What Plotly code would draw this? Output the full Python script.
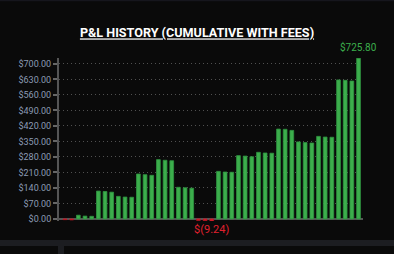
import plotly.graph_objects as go

values = [-3.1, -4.2, 17, 13, 12, 126, 124, 121, 102, 99, 98, 203, 200, 197,
          268, 265, 263, 143, 141, 139, -6.5, -7.8, -9.24, 215, 212, 211,
          286, 284, 281, 301, 298, 297, 406, 405, 400, 348, 345, 343,
          373, 370, 369, 628, 626, 623, 725.80]
categories = list(range(len(values)))
tick_vals = [0, 70, 140, 210, 280, 350, 420, 490, 560, 630, 700]
tick_text = ["$%.2f" % v for v in tick_vals]
title_text = "P&L HISTORY (CUMULATIVE WITH FEES)"

GREEN = "#3cae4c"
GREEN_EDGE = "#2f9440"
RED = "#e0202e"
BG = "#0a0a0a"

colors = [GREEN if v >= 0 else RED for v in values]
edges = [GREEN_EDGE if v >= 0 else "#b81522" for v in values]

W, H = 394, 254
L, R, T, B = 59, 31, 58, 33
pw, ph = W - L - R, H - T - B

def px_x(x):
    return (x - L) / pw

def px_y(y):
    return (H - B - y) / ph

fig = go.Figure(go.Bar(
    x=categories, y=values,
    marker=dict(color=colors, line=dict(color=edges, width=0.8)),
    width=0.56,
    hoverinfo="skip",
))

imax = max(range(len(values)), key=lambda i: values[i])
imin = min(range(len(values)), key=lambda i: values[i])

def money(v):
    return "$%.2f" % v if v >= 0 else "$(%.2f)" % abs(v)

fig.add_annotation(x=imax, y=values[imax], text=money(values[imax]),
                   showarrow=False, yanchor="bottom", yshift=3,
                   font=dict(color=GREEN, size=10, family="Roboto"))
fig.add_annotation(x=imin, y=values[imin], text=money(values[imin]),
                   showarrow=False, yanchor="top", yshift=0,
                   font=dict(color=RED, size=11, family="Roboto"))

shapes = [
    dict(type="rect", xref="paper", yref="paper",
         x0=px_x(0), x1=px_x(W), y0=px_y(240), y1=px_y(246),
         fillcolor="#1c1d21", line=dict(width=0), layer="above"),
    dict(type="rect", xref="paper", yref="paper",
         x0=px_x(58), x1=px_x(64), y0=px_y(246), y1=px_y(H),
         fillcolor="#1c1d21", line=dict(width=0), layer="above"),
    dict(type="rect", xref="paper", yref="paper",
         x0=px_x(0), x1=px_x(W), y0=px_y(0), y1=px_y(1.2),
         fillcolor="#16161d", line=dict(width=0), layer="above"),
]

fig.update_layout(
    width=W, height=H,
    margin=dict(l=L, r=R, t=T, b=B, pad=0),
    paper_bgcolor=BG, plot_bgcolor=BG,
    showlegend=False,
    shapes=shapes,
    title=dict(text="<b><u>" + title_text + "</u></b>",
               x=0.5, xref="container", xanchor="center",
               y=1 - 33 / H, yref="container", yanchor="middle",
               font=dict(color="#ffffff", size=12.6, family="Roboto")),
    xaxis=dict(range=[-0.9, 44.67], showticklabels=False, ticks="",
               showgrid=False, zeroline=False, showline=False, fixedrange=True),
    yaxis=dict(range=[-9.24, 727], tickvals=tick_vals, ticktext=tick_text,
               tickfont=dict(color="#8b9bb4", size=9, family="Roboto"),
               ticks="outside", ticklen=4, tickwidth=2, tickcolor="#666666",
               showline=True, linecolor="#555555", linewidth=2,
               showgrid=True, gridcolor="#505050", griddash="1px,3px", gridwidth=1,
               zeroline=True, zerolinecolor="#555555", zerolinewidth=2),
)

fig.write_html("out.html")
